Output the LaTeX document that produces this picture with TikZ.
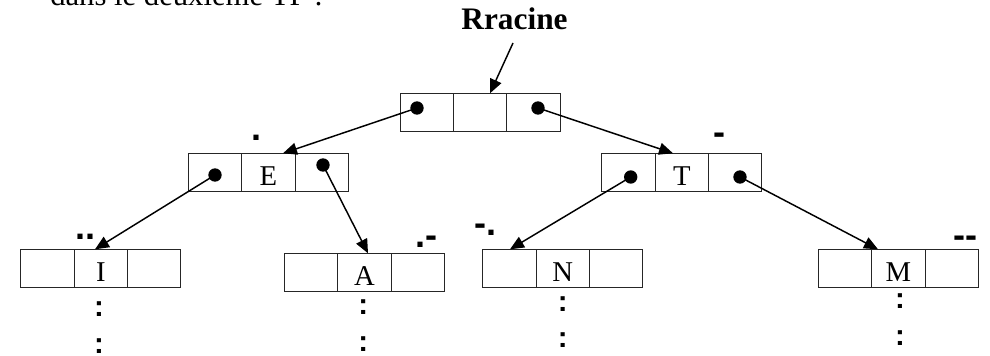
\documentclass[tikz,border=0pt]{standalone}
\usepackage{fontspec}
\setmainfont{Liberation Serif}
\newfontfamily\morsefont{Liberation Sans}
\newcommand\cellletterfont{\fontsize{21.5}{25}\selectfont}
\usetikzlibrary{arrows.meta}
\begin{document}
\begin{tikzpicture}[x=0.75pt,y=-0.75pt,
 cell/.style={draw=black!85,line width=0.75pt,minimum width=40.05pt,minimum height=28.7pt,inner sep=0pt,outer sep=0pt,anchor=north west,font=\cellletterfont,text height=19pt,text depth=0pt},
 ptr/.style={circle,fill=black,inner sep=0pt,minimum size=10pt},
 link/.style={line width=1.1pt,-{Triangle[length=10.5pt,width=9pt]}},
 code/.style={font=\morsefont\bfseries\fontsize{27}{30}\selectfont,inner sep=0pt,anchor=base west},
 cont/.style={font=\morsefont\bfseries\fontsize{22}{24}\selectfont,inner sep=0pt,anchor=base},
 plain/.style={inner sep=0pt}]
\useasboundingbox (0,0) rectangle (990,356);
\clip (0,0) rectangle (990,356);

% cut-off heading line
\node[plain,anchor=base west,font=\fontsize{23}{26}\selectfont] (head) at (50,6) {dans le deuxième TP :};

% root label
\node[plain,anchor=base,font=\bfseries\fontsize{23.5}{27}\selectfont] (rlabel) at (514.5,29.5) {Rracine};
\coordinate (rlabelfoot) at (513,43);

% root box
\node[cell] (r1) at (400,93.3) {};
\node[cell] (r2) at (r1.north east) {};
\node[cell] (r3) at (r2.north east) {};
% E box
\node[cell] (e1) at (188.3,153.3) {};
\node[cell] (e2) at (e1.north east) {E};
\node[cell] (e3) at (e2.north east) {};
% T box
\node[cell] (t1) at (601.7,153.3) {};
\node[cell] (t2) at (t1.north east) {T};
\node[cell] (t3) at (t2.north east) {};
% I box
\node[cell] (i1) at (20.7,249.3) {};
\node[cell] (i2) at (i1.north east) {I};
\node[cell] (i3) at (i2.north east) {};
% A box
\node[cell] (a1) at (284.3,253.3) {};
\node[cell] (a2) at (a1.north east) {A};
\node[cell] (a3) at (a2.north east) {};
% N box
\node[cell] (n1) at (482.7,249.3) {};
\node[cell] (n2) at (n1.north east) {N};
\node[cell] (n3) at (n2.north east) {};
% M box
\node[cell] (m1) at (818.3,249.3) {};
\node[cell] (m2) at (m1.north east) {M};
\node[cell] (m3) at (m2.north east) {};

% pointer dots
\node[ptr] (rl) at (417,108) {};
\node[ptr] (rr) at (538,108) {};
\node[ptr] (el) at (215,175) {};
\node[ptr] (er) at (323,165) {};
\node[ptr] (tl) at (630.7,177) {};
\node[ptr] (tr) at (740,177) {};

% arrow targets
\coordinate (rIn) at (490,93.3);
\coordinate (eIn) at (283,153.3);
\coordinate (tIn) at (673,153.3);
\coordinate (iIn) at (95,249.3);
\coordinate (aIn) at (368,253.3);
\coordinate (nIn) at (510,249.3);
\coordinate (mIn) at (878,249.3);

\draw[link] (rlabelfoot) -- (rIn);
\draw[link] (rl.center) -- (eIn);
\draw[link] (rr.center) -- (tIn);
\draw[link] (el.center) -- (iIn);
\draw[link] (er.center) -- (aIn);
\draw[link] (tl.center) -- (nIn);
\draw[link] (tr.center) -- (mIn);

% morse codes
\node[code] (ce) at (251,140.2) {.};
\node[code] (ct) at (713,144.9) {-};
\node[code] (ci) at (75,239.5) {..};
\node[code] (ca) at (415.7,247.3) {.-};
\node[code] (cn) at (474,235.9) {-.};
\node[code] (cm) at (953,247.2) {--};

% continuation dots
\node[cont] (ki1) at (99,317) {:};
\node[cont] (ki2) at (99,353.5) {:};
\node[cont] (ka1) at (363.3,314.3) {:};
\node[cont] (ka2) at (363.3,351.3) {:};
\node[cont] (kn1) at (562.7,311) {:};
\node[cont] (kn2) at (562.7,348) {:};
\node[cont] (km1) at (900,308.7) {:};
\node[cont] (km2) at (900,345.3) {:};
\end{tikzpicture}
\end{document}
